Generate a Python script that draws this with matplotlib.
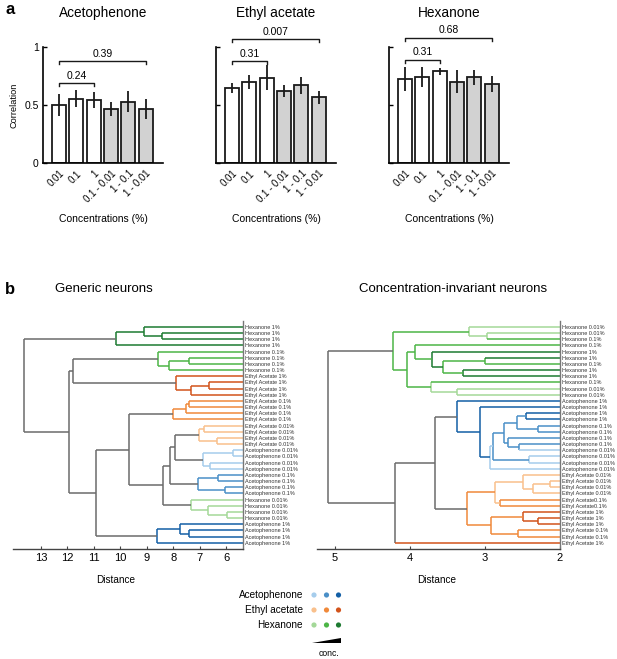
import matplotlib
matplotlib.use('Agg')
import matplotlib.pyplot as plt

plt.rcParams['font.family'] = ['Liberation Sans', 'DejaVu Sans']

W, H = 617, 659

# ---- panel a data ----
odors = ['Acetophenone', 'Ethyl acetate', 'Hexanone']
conc_labels = ['0.01', '0.1', '1', '0.1 - 0.01', '1 - 0.1', '1 - 0.01']
aceto_mean = [0.50, 0.555, 0.546, 0.466, 0.53, 0.466]
aceto_err = [0.095, 0.07, 0.07, 0.06, 0.09, 0.09]
ethyl_mean = [0.647, 0.695, 0.735, 0.62, 0.67, 0.566]
ethyl_err = [0.045, 0.06, 0.11, 0.05, 0.075, 0.055]
hexan_mean = [0.724, 0.74, 0.79, 0.70, 0.74, 0.68]
hexan_err = [0.10, 0.085, 0.033, 0.10, 0.065, 0.07]
pvals_short = ['0.24', '0.31', '0.31']   # 0.01 vs 1
pvals_long = ['0.39', '0.007', '0.68']   # 0.01 vs 1 - 0.01

# ---- panel b data ----
generic_labels = (['Hexanone 1%'] * 4 + ['Hexanone 0.1%'] * 4 +
                  ['Ethyl Acetate 1%'] * 4 + ['Ethyl Acetate 0.1%'] * 4 +
                  ['Ethyl Acetate 0.01%'] * 4 + ['Acetophenone 0.01%'] * 4 +
                  ['Acetophenone 0.1%'] * 4 + ['Hexanone 0.01%'] * 4 +
                  ['Acetophenone 1%'] * 4)
# merges: (child a, child b, distance, colour code); nodes numbered from 36
generic_merges = [
    (1, 2, 8.43, 'h2'), (0, 36, 9.10, 'h2'), (37, 3, 10.15, 'h2'),
    (5, 6, 7.39, 'h1'), (39, 7, 8.15, 'h1'), (4, 40, 8.56, 'h1'),
    (9, 10, 6.66, 'e2'), (42, 11, 7.34, 'e2'), (8, 43, 7.89, 'e2'),
    (12, 13, 7.39, 'e1'), (45, 14, 7.51, 'e1'), (46, 15, 7.99, 'e1'),
    (16, 17, 6.83, 'e0'), (18, 19, 6.35, 'e0'), (48, 49, 7.01, 'e0'),
    (20, 21, 5.75, 'a0'), (22, 23, 6.60, 'a0'), (51, 52, 6.88, 'a0'),
    (24, 25, 6.29, 'a1'), (26, 27, 6.04, 'a1'), (54, 55, 7.07, 'a1'),
    (30, 31, 5.95, 'h0'), (29, 57, 6.67, 'h0'), (28, 58, 7.34, 'h0'),
    (33, 34, 7.39, 'a2'), (32, 60, 7.74, 'a2'), (61, 35, 8.60, 'a2'),
    (50, 53, 7.93, 'g'), (63, 56, 8.12, 'g'), (64, 59, 8.37, 'g'),
    (47, 65, 9.67, 'g'), (66, 62, 10.93, 'g'), (41, 44, 11.78, 'g'),
    (68, 67, 11.94, 'g'), (38, 69, 13.64, 'g'),
]

invariant_labels = [
    'Hexanone 0.01%', 'Hexanone 0.01%', 'Hexanone 0.1%', 'Hexanone 0.1%',
    'Hexanone 1%', 'Hexanone 1%', 'Hexanone 0.1%', 'Hexanone 1%',
    'Hexanone 1%', 'Hexanone 0.1%', 'Hexanone 0.01%', 'Hexanone 0.01%',
    'Acetophenone 1%', 'Acetophenone 1%', 'Acetophenone 1%', 'Acetophenone 1%',
    'Acetophenone 0.1%', 'Acetophenone 0.1%', 'Acetophenone 0.1%',
    'Acetophenone 0.1%', 'Acetophenone 0.01%', 'Acetophenone 0.01%',
    'Acetophenone 0.01%', 'Acetophenone 0.01%',
    'Ethyl Acetate 0.01%', 'Ethyl Acetate 0.01%', 'Ethyl Acetate 0.01%',
    'Ethyl Acetate 0.01%', 'Ethyl Acetate0.1%', 'Ethyl Acetate0.1%',
    'Ethyl Acetate 1%', 'Ethyl Acetate 1%', 'Ethyl Acetate 1%',
    'Ethyl Acetate 0.1%', 'Ethyl Acetate 0.1%', 'Ethyl Acetate 1%',
]
invariant_merges = [
    (1, 2, 2.97, 'h0'), (0, 36, 3.22, 'h0'),
    (5, 6, 3.00, 'h1'), (7, 8, 3.30, 'h2'), (38, 39, 3.56, 'h1'),
    (4, 40, 3.71, 'h2'), (3, 41, 3.93, 'h1'),
    (10, 11, 3.38, 'h0'), (9, 43, 3.72, 'h0'),
    (42, 44, 4.04, 'h1'), (37, 45, 4.23, 'h1'),
    (14, 15, 2.45, 'a2'), (16, 17, 2.30, 'a1'), (47, 48, 2.58, 'a1'),
    (19, 20, 2.55, 'a1'), (18, 50, 2.70, 'a1'), (49, 51, 2.75, 'a1'),
    (21, 22, 2.41, 'a0'), (52, 53, 2.89, 'a1'), (54, 23, 2.93, 'a0'),
    (13, 55, 3.07, 'a2'), (12, 56, 3.37, 'a2'),
    (25, 26, 2.14, 'e0'), (58, 27, 2.36, 'e0'), (24, 59, 2.50, 'e0'),
    (28, 29, 2.80, 'e1'), (60, 61, 2.87, 'e0'),
    (31, 32, 2.30, 'e2'), (30, 63, 2.49, 'e2'),
    (33, 34, 2.56, 'e1'), (64, 65, 2.92, 'e1'), (62, 66, 3.24, 'e1'),
    (57, 67, 3.67, 'g'), (68, 35, 4.20, 'g'), (46, 69, 5.09, 'g'),
]

palette = {'a0': '#a6cdec', 'a1': '#4a8fc7', 'a2': '#135fa6',
           'e0': '#f9c08c', 'e1': '#f0893a', 'e2': '#d2531b',
           'h0': '#a4d898', 'h1': '#4db546', 'h2': '#1d7a31',
           'g': '#6b6b6b'}


def px_box(x0, y0, x1, y1):
    return [x0 / W, 1 - y1 / H, (x1 - x0) / W, (y1 - y0) / H]


def leaf_code(label):
    odor = label[0].lower()
    if label.endswith('0.01%'):
        return odor + '0'
    if label.endswith('0.1%'):
        return odor + '1'
    return odor + '2'


def draw_dendrogram(ax, labels, merges, leaf_dist):
    n = len(labels)
    pos = {i: (leaf_dist, float(i)) for i in range(n)}
    for k, (a, b, d, code) in enumerate(merges):
        col = palette[code]
        ya, yb = pos[a][1], pos[b][1]
        ax.plot([d, d], [ya, yb], color=col, lw=1.1, solid_capstyle='butt')
        for ch in (a, b):
            c = palette[leaf_code(labels[ch])] if ch < n else col
            ax.plot([d, pos[ch][0]], [pos[ch][1]] * 2, color=c, lw=1.1,
                    solid_capstyle='butt')
        pos[n + k] = (d, (ya + yb) / 2)


fig = plt.figure(figsize=(W / 100, H / 100), dpi=100)

# ---- panel a ----
means = [aceto_mean, ethyl_mean, hexan_mean]
errs = [aceto_err, ethyl_err, hexan_err]
lefts = [43, 216, 389]
for i, odor in enumerate(odors):
    ax = fig.add_axes(px_box(lefts[i], 47, lefts[i] + 120, 163))
    xs = range(len(conc_labels))
    colors = ['white'] * 3 + ['#d2d2d2'] * 3
    ax.bar(xs, means[i], width=0.8, color=colors, edgecolor='#1a1a1a',
           linewidth=1.3, zorder=2)
    ax.errorbar(xs, means[i], yerr=errs[i], fmt='none', ecolor='#1a1a1a',
                elinewidth=1.3, capsize=0, zorder=3)
    ax.set_xlim(-0.92, 6.0)
    ax.set_ylim(0, 1)
    for s in ['top', 'right']:
        ax.spines[s].set_visible(False)
    for s in ['left', 'bottom']:
        ax.spines[s].set_linewidth(1.2)
    ax.set_yticks([0, 0.5, 1])
    ax.tick_params(axis='y', direction='in', length=3, width=1, labelsize=7.5,
                   pad=3)
    if i == 0:
        ax.set_yticklabels(['0', '0.5', '1'])
        ax.set_ylabel('Correlation', fontsize=6.6, labelpad=4)
    else:
        ax.set_yticklabels([])
    ax.set_xticks(list(xs))
    ax.set_xticklabels(conc_labels, rotation=45, ha='right',
                       rotation_mode='anchor', fontsize=6.9)
    ax.tick_params(axis='x', length=0, pad=4)
    # significance brackets
    short_y = [0.69, 0.88, 0.89][i]
    long_y = [0.88, 1.07, 1.08][i]
    for (a, b, yb, txt) in [(0, 2, short_y, pvals_short[i]),
                            (0, 5, long_y, pvals_long[i])]:
        ax.plot([a, a, b, b], [yb - 0.03, yb, yb, yb - 0.03], color='#1a1a1a',
                lw=1.0, clip_on=False)
        ax.text((a + b) / 2, yb + 0.02, txt, ha='center', va='bottom',
                fontsize=7.5, clip_on=False)
    fig.text((lefts[i] + 60) / W, 1 - 13 / H, odor, ha='center', va='center',
             fontsize=9.8)
    fig.text((lefts[i] + 60) / W, 1 - 219 / H, 'Concentrations (%)',
             ha='center', va='center', fontsize=7.5)

fig.text(5 / W, 1 - 10 / H, 'a', fontsize=12, fontweight='bold', va='center')
fig.text(5 / W, 1 - 289 / H, 'b', fontsize=12, fontweight='bold', va='center')

# ---- panel b ----
dendros = [
    ('Generic neurons', generic_labels, generic_merges, (13, 243),
     (14.06, 5.36), [13, 12, 11, 10, 9, 8, 7, 6], 104, 116),
    ('Concentration-invariant neurons', invariant_labels, invariant_merges,
     (317, 560), (5.24, 2.0), [5, 4, 3, 2], 453, 437),
]
for title, labels, merges, (x0, x1), xlim, ticks, tx, dx in dendros:
    ax = fig.add_axes(px_box(x0, 321, x1, 549))
    draw_dendrogram(ax, labels, merges, xlim[1])
    ax.set_xlim(*xlim)
    ax.set_ylim(36.0, -0.97)
    for s in ['top', 'left']:
        ax.spines[s].set_visible(False)
    ax.spines['right'].set_color('#777777')
    ax.spines['bottom'].set_color('#444444')
    ax.spines['right'].set_linewidth(1.0)
    ax.spines['bottom'].set_linewidth(1.0)
    ax.set_xticks(ticks)
    ax.tick_params(axis='x', direction='in', length=2.5, width=0.8,
                   color='#444444', labelsize=8, pad=3)
    ax.yaxis.tick_right()
    ax.set_yticks(range(len(labels)))
    ax.set_yticklabels(labels, fontsize=3.95, color='#333333')
    ax.tick_params(axis='y', length=0, pad=1.5)
    fig.text(tx / W, 1 - 289 / H, title, ha='center', va='center',
             fontsize=9.5)
    fig.text(dx / W, 1 - 580 / H, 'Distance', ha='center', va='center',
             fontsize=7.2)

# ---- colour key ----
key = fig.add_axes([0, 0, 1, 1])
key.set_xlim(0, W)
key.set_ylim(H, 0)
key.axis('off')
key_rows = [('Acetophenone', 'a'), ('Ethyl acetate', 'e'), ('Hexanone', 'h')]
for r, (name, od) in enumerate(key_rows):
    yy = 595 + r * 15
    key.text(303, yy, name, ha='right', va='center', fontsize=7.2)
    key.scatter([314, 326.5, 338.5], [yy] * 3,
                c=[palette[od + str(k)] for k in range(3)], s=14,
                linewidths=0)
key.fill([312, 341, 341], [643, 643, 638], color='black', lw=0)
key.text(329, 654, 'conc.', ha='center', va='center', fontsize=6.2)

fig.savefig('out.png', dpi=100)
